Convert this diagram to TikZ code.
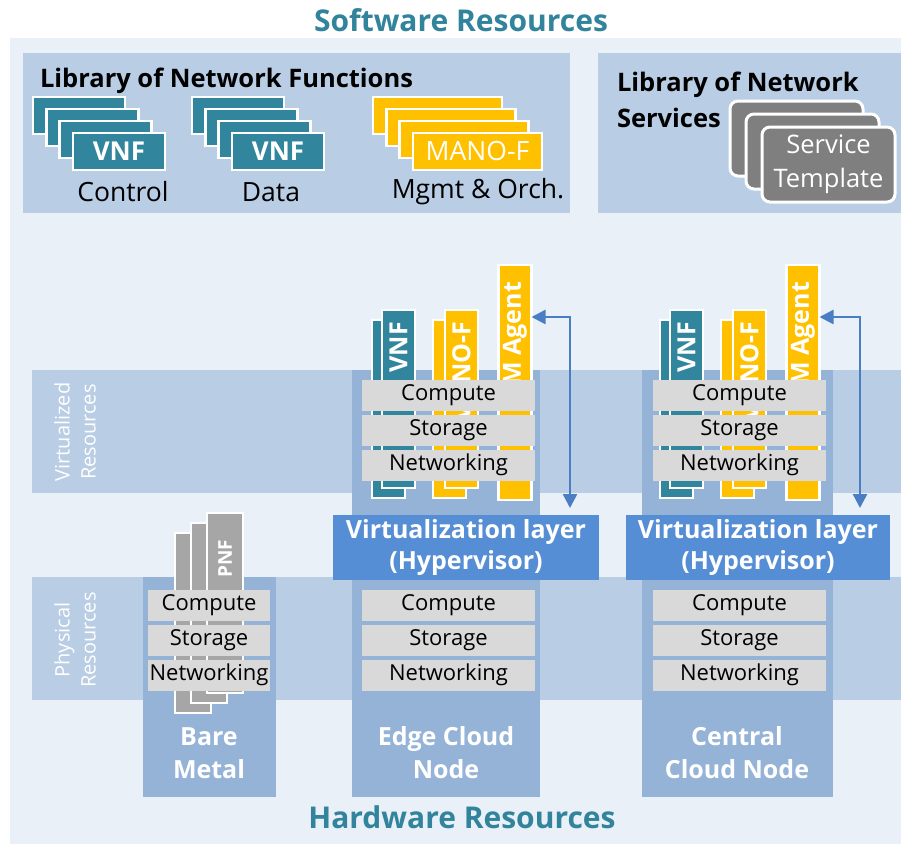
\documentclass[tikz,border=0pt]{standalone}
\usepackage{fontspec}
\setmainfont{Open Sans}
\usetikzlibrary{arrows.meta,calc}
\definecolor{bgc}{HTML}{EAF0F8}
\definecolor{panelc}{HTML}{B9CDE5}
\definecolor{colc}{HTML}{95B3D7}
\definecolor{hypc}{HTML}{558ED5}
\definecolor{cteal}{HTML}{31859C}
\definecolor{cgold}{HTML}{FFC000}
\definecolor{dgray}{HTML}{7F7F7F}
\definecolor{mgray}{HTML}{A6A6A6}
\definecolor{lgray}{HTML}{D9D9D9}
\definecolor{arrc}{HTML}{4A7EC4}
\definecolor{ttlc}{HTML}{31849B}
\begin{document}
\begin{tikzpicture}[x=1pt,y=-1pt,
  every node/.style={inner sep=0pt, outer sep=0pt},
  hcard/.style={draw=white, line width=2.5pt, minimum width=92pt, minimum height=37pt, text=white, font=\fontsize{26}{28}\selectfont\bfseries},
  vcard/.style={draw=white, line width=2.5pt, minimum width=33pt, minimum height=178pt},
  stcard/.style={draw=white, line width=3pt, rounded corners=8pt, fill=dgray, minimum width=133pt, minimum height=75pt},
  pcard/.style={draw=white, line width=2.5pt, fill=mgray, minimum width=36pt, minimum height=180pt},
  resbox/.style={fill=lgray, minimum height=31pt, font=\fontsize{22}{24}\selectfont, text=black},
  hyperbox/.style={fill=hypc, minimum height=65pt, text=white, align=center, font=\fontsize{25}{31}\selectfont\bfseries},
  vtext/.style={rotate=90, anchor=east, text=white, font=\fontsize{25}{27}\selectfont\bfseries},
  blab/.style={text=white, align=center, font=\fontsize{25}{33}\selectfont\bfseries},
  bandlab/.style={rotate=90, text=white, align=center, font=\fontsize{20}{26}\selectfont},
  ttlstyle/.style={text=ttlc, font=\fontsize{30}{32}\selectfont\bfseries},
  libtxt/.style={font=\fontsize{25.5}{36}\selectfont\bfseries, align=left},
  captxt/.style={font=\fontsize{26.5}{28}\selectfont},
  arr/.style={draw=arrc, line width=2.5pt, {Triangle[length=14pt,width=14pt]}-{Triangle[length=14pt,width=14pt]}}
]
\useasboundingbox (0,0) rectangle (901,844);
\fill[white] (0,0) rectangle (901,844);
\fill[bgc] (10,38) rectangle (901,844);

% titles
\node[ttlstyle] (swt) at (461,20) {Software Resources};
\node[ttlstyle] (hwt) at (462,817) {Hardware Resources};

% library panels
\fill[panelc] (23,53) rectangle (570,213);
\fill[panelc] (598,53) rectangle (901,213);
\node[libtxt, anchor=west] (lnf) at (40,81) {Library of Network Functions};
\node[libtxt, anchor=west] (lns) at (617,100) {Library of Network\\Services};

% VNF stacks
\foreach \i in {0,1,2}{
  \node[hcard, fill=cteal] (ctl\i) at ({79+13.33*\i},{115.5+12*\i}) {};
  \node[hcard, fill=cteal] (dat\i) at ({238+13.33*\i},{115.5+12*\i}) {};
  \node[hcard, fill=cgold, minimum width=129pt] (man\i) at ({437.5+13.33*\i},{115.5+12*\i}) {};
}
\node[hcard, fill=cteal] (ctl3) at (119,151.5) {VNF};
\node[hcard, fill=cteal] (dat3) at (278,151.5) {VNF};
\node[hcard, fill=cgold, minimum width=129pt, font=\fontsize{26.5}{28}\selectfont] (man3) at (477.5,151.5) {MANO-F};
\node[captxt] (lctl) at (123,192) {Control};
\node[captxt] (ldat) at (271,192) {Data};
\node[captxt] (lman) at (478,192) {Mgmt \& Orch.};

% service templates
\node[stcard] (st0) at (796.5,138.5) {};
\node[stcard] (st1) at (812.5,151.5) {};
\node[stcard, text=white, align=center, font=\fontsize{25.5}{34}\selectfont] (st2) at (828.5,164.5) {Service\\Template};

% bands
\fill[panelc] (32,370) rectangle (901,493);
\fill[panelc] (32,577) rectangle (901,700);
\node[bandlab] (vrl) at (75,432) {Virtualized\\Resources};
\node[bandlab] (prl) at (75,640) {Physical\\Resources};

% columns
\fill[colc] (143,577) rectangle (276,797);
\fill[colc] (352,370) rectangle (540,797);
\fill[colc] (642,370) rectangle (833,797);

% virtual functions on edge and central nodes
\foreach \n/\dx in {E/0,C/288}{
  \node[vcard, fill=cteal] (vnfb\n) at ({388.5+\dx},409) {};
  \node[vcard, fill=cteal] (vnf\n) at ({398.5+\dx},399) {};
  \node[vcard, fill=cgold] (manb\n) at ({449.5+\dx},409) {};
  \node[vcard, fill=cgold] (mano\n) at ({461.5+\dx},399) {};
  \node[vcard, fill=cgold, minimum height=235pt] (vim\n) at ({515+\dx},382.5) {};
  \node[vtext] (tvnf\n) at ({398.5+\dx},322) {VNF};
  \node[vtext] (tman\n) at ({461.5+\dx},322) {MANO-F};
  \node[vtext] (tvim\n) at ({515+\dx},282) {VIM Agent};
}
% virtual and physical resources
\foreach \n/\x in {E/448.5,C/739.5}{
  \node[resbox, minimum width=173pt] (vc\n) at (\x,395) {Compute};
  \node[resbox, minimum width=173pt] (vs\n) at (\x,430) {Storage};
  \node[resbox, minimum width=173pt] (vn\n) at (\x,465) {Networking};
  \node[resbox, minimum width=173pt] (pc\n) at (\x,605) {Compute};
  \node[resbox, minimum width=173pt] (ps\n) at (\x,640) {Storage};
  \node[resbox, minimum width=173pt] (pn\n) at (\x,675) {Networking};
}
% hypervisors
\node[hyperbox, minimum width=266pt] (hvE) at (466,547.5) {Virtualization layer\\(Hypervisor)};
\node[hyperbox, minimum width=264pt] (hvC) at (758,547.5) {Virtualization layer\\(Hypervisor)};

% arrows
\coordinate (cE) at (570,317);
\coordinate (cC) at (860,317);
\draw[arr, shorten >=7pt] (vimE.east |- cE) -- (cE) -- (cE |- hvE.north);
\draw[arr, shorten >=7pt] (vimC.east |- cC) -- (cC) -- (cC |- hvC.north);

% bare metal
\node[pcard] (pnf0) at (193,623) {};
\node[pcard] (pnf1) at (209,613) {};
\node[pcard] (pnf2) at (225,603) {};
\node[vtext, font=\fontsize{19}{21}\selectfont\bfseries] (tpnf) at (225,540) {PNF};
\node[resbox, minimum width=122pt] (bc) at (209,605) {Compute};
\node[resbox, minimum width=122pt] (bs) at (209,640) {Storage};
\node[resbox, minimum width=122pt] (bn) at (209,675) {Networking};

% column labels
\node[blab] (lbm) at (209,753) {Bare\\Metal};
\node[blab] (lec) at (446,753) {Edge Cloud\\Node};
\node[blab] (lcc) at (737,753) {Central\\Cloud Node};
\end{tikzpicture}
\end{document}
